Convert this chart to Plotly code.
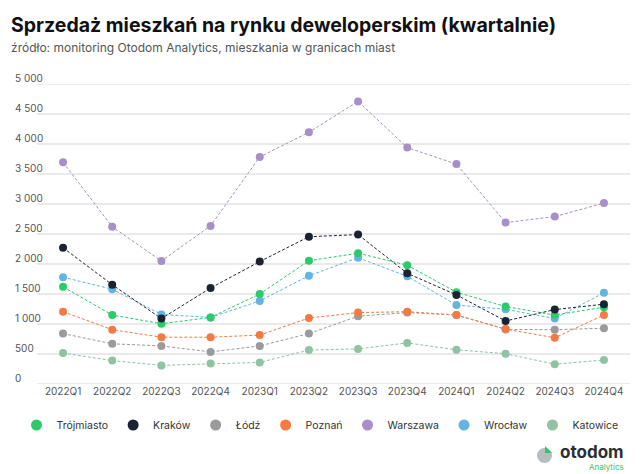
import plotly.graph_objects as go

quarters = ["2022Q1", "2022Q2", "2022Q3", "2022Q4", "2023Q1", "2023Q2",
            "2023Q3", "2023Q4", "2024Q1", "2024Q2", "2024Q3", "2024Q4"]

trojmiasto = [1620, 1150, 1005, 1110, 1500, 2055, 2180, 1980, 1530, 1290, 1150, 1280]
krakow     = [2270, 1655, 1090, 1600, 2040, 2455, 2490, 1845, 1485, 1050, 1240, 1330]
lodz       = [840, 670, 635, 535, 635, 840, 1130, 1190, 1150, 910, 905, 930]
poznan     = [1205, 905, 780, 780, 815, 1100, 1190, 1205, 1150, 915, 770, 1150]
warszawa   = [3695, 2620, 2050, 2635, 3785, 4195, 4710, 3940, 3665, 2690, 2790, 3015]
wroclaw    = [1780, 1580, 1160, 1110, 1385, 1805, 2105, 1795, 1315, 1245, 1090, 1520]
katowice   = [515, 390, 310, 340, 360, 565, 585, 685, 570, 505, 330, 400]

series_names = ["Trójmiasto", "Kraków", "Łódź", "Poznań", "Warszawa", "Wrocław", "Katowice"]
series_values = [trojmiasto, krakow, lodz, poznan, warszawa, wroclaw, katowice]
series_colors = ["#2bcb6b", "#1b2333", "#9b9b9b", "#f47a44", "#a98fc8", "#62b5e2", "#90c2a3"]

y_tickvals = [0, 500, 1000, 1500, 2000, 2500, 3000, 3500, 4000, 4500, 5000]
y_ticktext = ["0", "500", "1 000", "1 500", "2 000", "2 500", "3 000", "3 500", "4 000", "4 500", "5 000"]

W, H = 640, 474
ML, MR, MT, MB = 11, 10, 84, 90
PW, PH = W - ML - MR, H - MT - MB


def px_x(x):
    return (x - ML) / PW


def px_y(y):
    return 1 - (y - MT) / PH


fig = go.Figure()

# horizontal grid lines at the axis tick values (drawn on the y scale)
for v in y_tickvals:
    fig.add_shape(type="line", xref="x domain", yref="y", x0=0, x1=1, y0=v, y1=v,
                  line=dict(color="#e3e3e3", width=1.5), layer="below")

# draw order: back to front
draw_order = [4, 6, 2, 3, 5, 0, 1]
for i in draw_order:
    fig.add_trace(go.Scatter(
        x=quarters, y=series_values[i], mode="lines+markers",
        name=series_names[i], showlegend=False,
        line=dict(color=series_colors[i], width=1, dash="3px,2px"),
        marker=dict(color=series_colors[i], size=8),
        cliponaxis=False, hoverinfo="x+y+name",
    ))

for i in range(len(series_names)):
    fig.add_trace(go.Scatter(
        x=[None], y=[None], mode="markers", name=series_names[i],
        showlegend=True,
        marker=dict(color=series_colors[i], size=11),
    ))

# invisible trace so the label axis (y2) is rendered
fig.add_trace(go.Scatter(x=[quarters[0]], y=[None], yaxis="y2", showlegend=False,
                         mode="markers", hoverinfo="skip"))

fig.update_layout(
    width=W, height=H,
    margin=dict(l=ML, r=MR, t=MT, b=MB, pad=0),
    paper_bgcolor="white", plot_bgcolor="white",
    font=dict(family="Inter, sans-serif", color="#555555", size=10),
    showlegend=True,
    legend=dict(orientation="h", xref="container", yref="container",
                x=0.5, xanchor="center", y=1 - 425 / H, yanchor="middle",
                font=dict(size=10.5, color="#333333"),
                traceorder="normal", bgcolor="rgba(0,0,0,0)"),
    xaxis=dict(domain=[px_x(37), 1], type="category", range=[-0.53, 11.53],
               showgrid=False, zeroline=False, showline=False, ticks="",
               tickfont=dict(size=10, color="#555555")),
    yaxis=dict(range=[0, 5000], tickvals=y_tickvals, showticklabels=False,
               showgrid=False, zeroline=False, showline=False, ticks=""),
    yaxis2=dict(overlaying="y", anchor="free", position=0, side="left",
                range=[0, 5000], tickvals=y_tickvals, ticktext=y_ticktext,
                ticklabelposition="inside", ticklabeloverflow="allow",
                ticklabelshift=-6, ticklabelstandoff=0,
                showgrid=False, zeroline=False, showline=False, ticks="",
                tickfont=dict(size=10, color="#555555")),
)

fig.add_annotation(text="<b>Sprzedaż mieszkań na rynku deweloperskim (kwartalnie)</b>",
                   xref="paper", yref="paper", x=px_x(9), y=px_y(25),
                   xanchor="left", yanchor="middle", showarrow=False,
                   font=dict(size=19.5, color="#111111", family="Inter, sans-serif"))
fig.add_annotation(text="źródło: monitoring Otodom Analytics, mieszkania w granicach miast",
                   xref="paper", yref="paper", x=px_x(9), y=px_y(47),
                   xanchor="left", yanchor="middle", showarrow=False,
                   font=dict(size=12, color="#555555", family="Inter, sans-serif"))

# logo
fig.add_shape(type="circle", xref="paper", yref="paper",
              x0=px_x(537), x1=px_x(552), y0=px_y(463), y1=px_y(448),
              fillcolor="#b9bcbf", line=dict(width=0))
fig.add_shape(type="path", xref="paper", yref="paper",
              path=f"M {px_x(545)} {px_y(446)} L {px_x(545)} {px_y(453)} L {px_x(552)} {px_y(453)} Z",
              fillcolor="#2bcb6b", line=dict(width=0))
fig.add_annotation(text="<b>otodom</b>", xref="paper", yref="paper",
                   x=px_x(626), y=px_y(452), xanchor="right", yanchor="middle",
                   showarrow=False, font=dict(size=17, color="#2b2e33", family="Inter, sans-serif"))
fig.add_annotation(text="Analytics", xref="paper", yref="paper",
                   x=px_x(626), y=px_y(467), xanchor="right", yanchor="middle",
                   showarrow=False, font=dict(size=8, color="#2bcb6b", family="Inter, sans-serif"))

fig.write_html("out.html")
